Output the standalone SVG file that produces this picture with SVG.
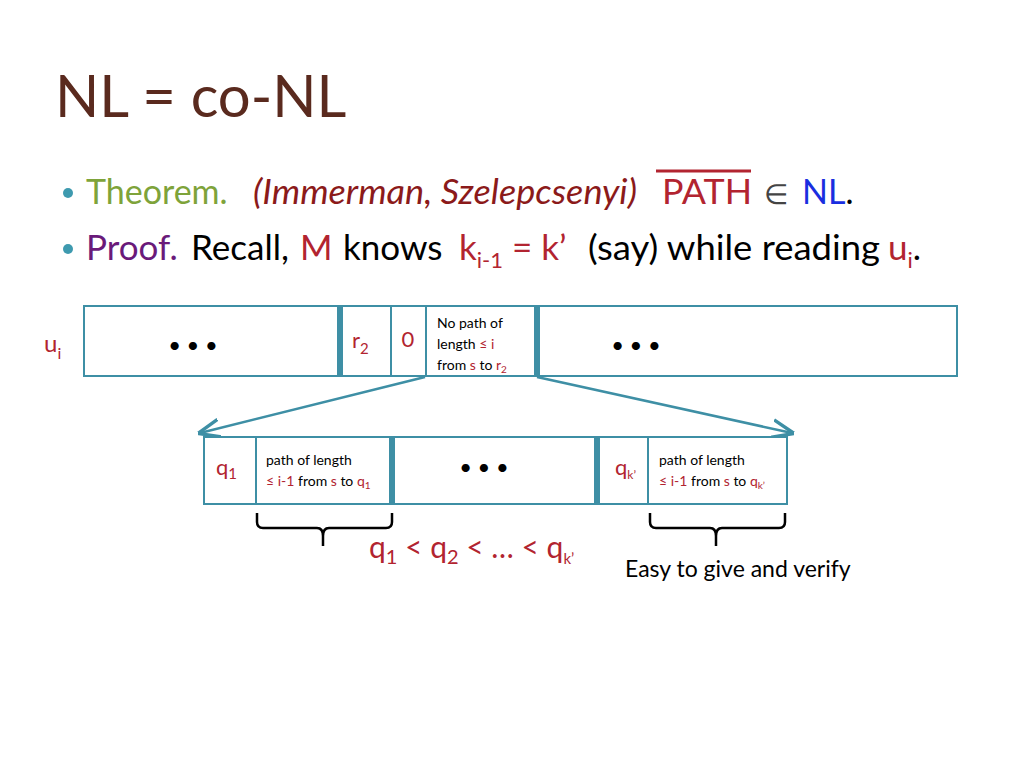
<svg xmlns="http://www.w3.org/2000/svg" width="1024" height="768" viewBox="0 0 1024 768">
<defs>
<style>
text{font-family:Lato,"Open Sans","Liberation Sans",sans-serif}
.r{fill:#b22430}.k{fill:#000}
.box{fill:#fff;stroke:#3e8fa5;stroke-width:2}
.thick{stroke:#3e8fa5;stroke-width:6}
.thin{stroke:#3e8fa5;stroke-width:2}
.br{fill:none;stroke:#000;stroke-width:2.5}
</style>
<marker id="ah" viewBox="0 0 10 10" refX="9" refY="5" markerWidth="9" markerHeight="9" orient="auto"><path d="M0,1 L10,5 L0,9" fill="none" stroke="#3e8fa5" stroke-width="1.5"/></marker>
</defs>
<rect width="1024" height="768" fill="#fff"/>
<text x="55" y="117" font-size="58" fill="#5a2a1e">NL = co-NL</text>
<circle cx="68" cy="193" r="5" fill="#3e9aaf"/>
<circle cx="68" cy="249" r="5" fill="#3e9aaf"/>
<g font-size="34">
<text x="86" y="204" fill="#7ea33a">Theorem.</text>
<text x="253" y="204" fill="#8b1a1a" font-style="italic" textLength="384" lengthAdjust="spacingAndGlyphs">(Immerman, Szelepcsenyi)</text>
<text x="662" y="204" class="r" textLength="90" lengthAdjust="spacingAndGlyphs">PATH</text>
<text x="764" y="204" fill="#444" font-size="28">∈</text>
<text x="802" y="204"><tspan fill="#1a2ee0">NL</tspan>.</text>
</g>
<line x1="656" y1="171" x2="751" y2="171" stroke="#b22430" stroke-width="3"/>
<g font-size="35">
<text x="86" y="260" fill="#6a1a7a">Proof.</text>
<text x="191" y="260">Recall,</text>
<text x="300" y="260" class="r">M</text>
<text x="343" y="260">knows</text>
<text x="459" y="260" class="r">k<tspan font-size="22" dy="8">i-1</tspan><tspan dy="-8"> = k’</tspan></text>
<text x="588" y="260" textLength="292" lengthAdjust="spacingAndGlyphs">(say) while reading</text>
<text x="888" y="260"><tspan class="r">u</tspan><tspan class="r" font-size="22" dy="8">i</tspan><tspan dy="-8">.</tspan></text>
</g>
<g id="top">
<rect class="box" x="84" y="306" width="873" height="70"/>
<line class="thick" x1="340" y1="306" x2="340" y2="376"/>
<line class="thin" x1="391" y1="306" x2="391" y2="376"/>
<line class="thin" x1="426" y1="306" x2="426" y2="376"/>
<line class="thick" x1="537" y1="306" x2="537" y2="376"/>
<text x="44" y="352" font-size="24" class="r">u<tspan font-size="16" dy="7">i</tspan></text>
<text x="193" y="353" font-size="22" text-anchor="middle">• • •</text>
<text x="636" y="353" font-size="22" text-anchor="middle">• • •</text>
<text x="352" y="348" font-size="22" class="r">r<tspan font-size="15" dy="6">2</tspan></text>
<text x="408" y="347" font-size="22" text-anchor="middle" class="r">0</text>
<text x="437" y="328" font-size="14">No path of</text>
<text x="437" y="349" font-size="14">length <tspan class="r">≤ i</tspan></text>
<text x="437" y="370" font-size="14">from <tspan class="r">s</tspan> to <tspan class="r">r<tspan font-size="10" dy="3">2</tspan></tspan></text>
</g>
<g id="connectors">
<line x1="425" y1="377" x2="200" y2="433" stroke="#3e8fa5" stroke-width="2.5" marker-end="url(#ah)"/>
<line x1="537" y1="377" x2="792" y2="433" stroke="#3e8fa5" stroke-width="2.5" marker-end="url(#ah)"/>
</g>
<g id="bottom">
<rect class="box" x="204" y="437" width="583" height="67"/>
<line class="thin" x1="256" y1="437" x2="256" y2="504"/>
<line class="thick" x1="392" y1="437" x2="392" y2="504"/>
<line class="thick" x1="597" y1="437" x2="597" y2="504"/>
<line class="thin" x1="648" y1="437" x2="648" y2="504"/>
<text x="216" y="475" font-size="22" class="r">q<tspan font-size="15" dy="4">1</tspan></text>
<text x="266" y="465" font-size="14">path of length</text>
<text x="266" y="486" font-size="14"><tspan class="r">≤ i-1</tspan> from <tspan class="r">s</tspan> to <tspan class="r">q<tspan font-size="10" dy="3">1</tspan></tspan></text>
<text x="484" y="475" font-size="22" text-anchor="middle">• • •</text>
<text x="615" y="475" font-size="22" class="r">q<tspan font-size="12" dy="4">k’</tspan></text>
<text x="659" y="465" font-size="14">path of length</text>
<text x="659" y="486" font-size="14"><tspan class="r">≤ i-1</tspan> from <tspan class="r">s</tspan> to <tspan class="r">q<tspan font-size="10" dy="3">k’</tspan></tspan></text>
</g>
<g id="braces">
<path class="br" d="M257,513 V522 Q257,528 263,528 H317 Q323,528 323,536 V546 M323,536 Q323,528 329,528 H386 Q392,528 392,522 V513"/>
<path class="br" d="M650,513 V522 Q650,528 656,528 H710 Q716,528 716,536 V546 M716,536 Q716,528 722,528 H779 Q785,528 785,522 V513"/>
</g>
<text x="369" y="558" font-size="30" class="r">q<tspan font-size="20" dy="6">1</tspan><tspan dy="-6"> &lt; q</tspan><tspan font-size="20" dy="6">2</tspan><tspan dy="-6"> &lt; … &lt; q</tspan><tspan font-size="15" dy="6">k’</tspan></text>
<text x="625" y="577" font-size="23">Easy to give and verify</text>
</svg>
